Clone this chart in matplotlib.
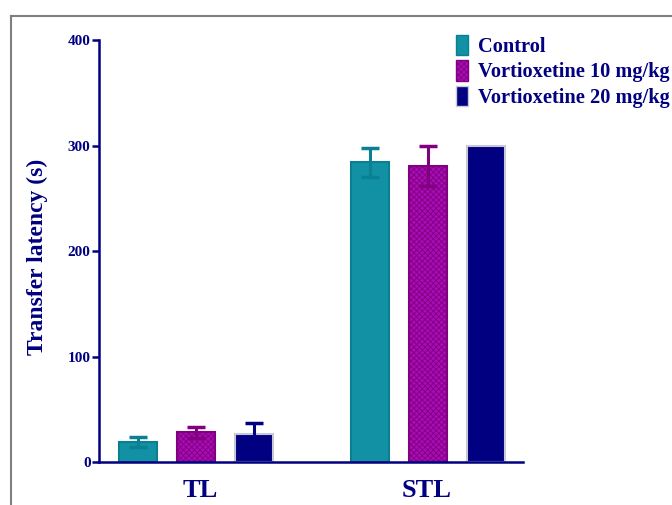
import numpy as np
import matplotlib
matplotlib.use("Agg")
import matplotlib.pyplot as plt
from matplotlib.patches import Patch
from matplotlib.lines import Line2D

# data
groups = ["TL", "STL"]
series = ["Control", "Vortioxetine 10 mg/kg", "Vortioxetine 20 mg/kg"]
means = [[19, 284], [28, 281], [27, 300]]
errs = [[5, 14], [5, 19], [10, 0]]
yticks = [0, 100, 200, 300, 400]

navy = "#000080"
faces = ["#1191a3", "#a80cb4", "#000080"]
edges = ["#0a7f90", "#800080", "#c8c8d8"]
errcols = ["#0a8094", "#800080", "#000080"]
hatches = [None, "xxxxxx", None]

plt.rcParams["font.family"] = ["Liberation Serif", "DejaVu Serif"]
plt.rcParams["font.weight"] = "bold"
plt.rcParams["hatch.linewidth"] = 0.6

fig = plt.figure(figsize=(6.72, 5.05), dpi=100)
ax = fig.add_axes([0.1473, 0.0851, 0.631, 0.8356])

centers = np.array([0, 4])
for i in range(3):
    x = centers + (i - 1)
    ax.bar(x, means[i], width=0.66, color=faces[i], edgecolor=edges[i],
           linewidth=1.5, hatch=hatches[i], zorder=2)
    for j in range(2):
        if errs[i][j] > 0:
            ax.errorbar(x[j], means[i][j], yerr=errs[i][j], fmt="none",
                        ecolor=errcols[i], elinewidth=2.2, capsize=6.8,
                        capthick=2.5, zorder=3)

ax.set_xlim(-1.67, 5.64)
ax.set_ylim(0, 400)
ax.set_yticks(yticks)
ax.set_xticks([0.07, 3.97])
ax.set_xticklabels(groups, fontsize=19, color=navy, fontweight="bold")
ax.tick_params(axis="x", length=0, pad=12)
ax.tick_params(axis="y", length=5, width=1.8, color=navy, labelsize=11,
               labelcolor=navy, pad=1)
for s in ["top", "right"]:
    ax.spines[s].set_visible(False)
for s in ["left", "bottom"]:
    ax.spines[s].set_color(navy)
    ax.spines[s].set_linewidth(1.8)

ax.set_ylabel("Transfer latency (s)", fontsize=17, color=navy,
              fontweight="bold", labelpad=14)
ax.yaxis.label.set_y(0.485)

handles = [Patch(facecolor=faces[i], edgecolor=edges[i], hatch=hatches[i])
           for i in range(3)]
fig.legend(handles, series, loc="upper left", bbox_to_anchor=(0.666, 0.947),
           frameon=False, handlelength=0.58, handleheight=1.15,
           handletextpad=0.5, labelspacing=0.17, borderaxespad=0,
           labelcolor=navy, prop={"weight": "bold", "size": 14.7})

# gray frame from the original figure panel
fig.add_artist(Line2D([11 / 672, 11 / 672], [0, 1 - 16 / 505],
                      transform=fig.transFigure, color="#7f7f7f", lw=1.5))
fig.add_artist(Line2D([11 / 672, 1], [1 - 16 / 505, 1 - 16 / 505],
                      transform=fig.transFigure, color="#7f7f7f", lw=1.5))

fig.savefig("out.png", dpi=100)
